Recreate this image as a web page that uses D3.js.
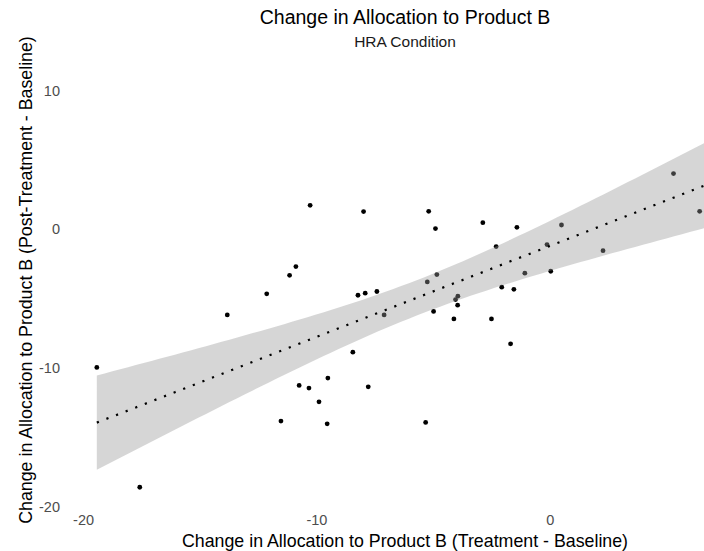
<!DOCTYPE html>
<html>
<head>
<meta charset="utf-8">
<script src="https://cdn.jsdelivr.net/npm/d3@7"></script>
<style>
  body { margin: 0; background: #ffffff; }
  text { font-family: "Liberation Sans", Arial, Helvetica, sans-serif; }
</style>
</head>
<body>
<svg id="chart" width="704" height="551"></svg>
<script>
// Per-participant change in allocation to Product B (HRA condition)
const treatmentChange = [
  -19.41, -17.57, -13.82, -12.13, -11.15, -10.88, -10.27, -7.98, -5.19, -4.90,
  -2.87, -1.41, -2.30, -4.84, -5.25, -8.22, -7.91, -7.41, -2.06, -1.54,
  -3.94, -4.04, -3.95, -7.10, -4.98, -4.11, -2.50, -1.68, -8.44, -9.51,
  -10.74, -10.32, -7.78, -9.89, -11.52, -9.54, -5.32, 5.30, 6.42, 0.50,
  -0.12, 2.28, -1.07, 0.04, 7.00
];
const postTreatmentChange = [
  -9.97, -18.62, -6.18, -4.66, -3.32, -2.69, 1.73, 1.28, 1.30, 0.05,
  0.48, 0.14, -1.25, -3.27, -3.80, -4.76, -4.61, -4.49, -4.18, -4.33,
  -4.83, -5.07, -5.48, -6.18, -5.93, -6.47, -6.47, -8.27, -8.87, -10.74,
  -11.27, -11.46, -11.37, -12.45, -13.84, -14.04, -13.94, 4.02, 1.30, 0.31,
  -1.10, -1.54, -3.17, -3.03, 11.30
];
const xTicks = [-20, -10, 0];
const yTicks = [-20, -10, 0, 10];
const titleText = "Change in Allocation to Product B";
const subtitleText = "HRA Condition";
const xTitleText = "Change in Allocation to Product B (Treatment - Baseline)";
const yTitleText = "Change in Allocation to Product B (Post-Treatment - Baseline)";

const svg = d3.select("#chart");
const panel = { left: 66, right: 744, top: 52, bottom: 508 };

const points = treatmentChange.map((x, i) => ({ x, y: postTreatmentChange[i] }));
const n = points.length;

// Ordinary least squares fit with 95% confidence band
const mx = d3.mean(points, d => d.x);
const my = d3.mean(points, d => d.y);
const sxx = d3.sum(points, d => (d.x - mx) ** 2);
const sxy = d3.sum(points, d => (d.x - mx) * (d.y - my));
const slope = sxy / sxx;
const intercept = my - slope * mx;
const rss = d3.sum(points, d => (d.y - (intercept + slope * d.x)) ** 2);
const sigma = Math.sqrt(rss / (n - 2));

function tQuantile975(df) {
  const z = 1.959963985;
  const z3 = z ** 3, z5 = z ** 5, z7 = z ** 7;
  return z + (z3 + z) / (4 * df)
    + (5 * z5 + 16 * z3 + 3 * z) / (96 * df * df)
    + (3 * z7 + 19 * z5 + 17 * z3 - 15 * z) / (384 * df ** 3);
}
const tq = tQuantile975(n - 2);

const [xMin, xMax] = d3.extent(points, d => d.x);
const band = d3.range(80).map(i => {
  const x = xMin + (xMax - xMin) * i / 79;
  const fit = intercept + slope * x;
  const se = sigma * Math.sqrt(1 / n + (x - mx) ** 2 / sxx);
  return { x, fit, lo: fit - tq * se, hi: fit + tq * se };
});

// Scale domains padded by 5% of the data range on each side
function padded(lo, hi) {
  const p = (hi - lo) * 0.05;
  return [lo - p, hi + p];
}
const yLo = Math.min(d3.min(points, d => d.y), d3.min(band, d => d.lo));
const yHi = Math.max(d3.max(points, d => d.y), d3.max(band, d => d.hi));

const x = d3.scaleLinear().domain(padded(xMin, xMax)).range([panel.left, panel.right]);
const y = d3.scaleLinear().domain(padded(yLo, yHi)).range([panel.bottom, panel.top]);

// Points
svg.append("g")
  .selectAll("circle")
  .data(points)
  .join("circle")
  .attr("cx", d => x(d.x))
  .attr("cy", d => y(d.y))
  .attr("r", 2.4)
  .attr("fill", "#000000");

// Confidence ribbon
svg.append("path")
  .datum(band)
  .attr("d", d3.area().x(d => x(d.x)).y0(d => y(d.lo)).y1(d => y(d.hi)))
  .attr("fill", "#999999")
  .attr("fill-opacity", 0.4);

// Dotted regression line
svg.append("path")
  .datum(band)
  .attr("d", d3.line().x(d => x(d.x)).y(d => y(d.fit)))
  .attr("fill", "none")
  .attr("stroke", "#000000")
  .attr("stroke-width", 2.2)
  .attr("stroke-dasharray", "2.2 8.1");

// Axes (labels only, no lines or ticks); plain hyphen for negatives
const tickFmt = d => String(d);

const xAxis = svg.append("g")
  .attr("transform", `translate(0,${panel.bottom})`)
  .call(d3.axisBottom(x).tickValues(xTicks).tickSize(0).tickPadding(7).tickFormat(tickFmt));
xAxis.select(".domain").remove();
xAxis.selectAll("text")
  .attr("fill", "#4d4d4d")
  .style("font-size", "14.5px")
  .style("font-family", '"Liberation Sans", Arial, sans-serif');

const yAxis = svg.append("g")
  .attr("transform", `translate(${panel.left},0)`)
  .call(d3.axisLeft(y).tickValues(yTicks).tickSize(0).tickPadding(6).tickFormat(tickFmt));
yAxis.select(".domain").remove();
yAxis.selectAll("text")
  .attr("fill", "#4d4d4d")
  .style("font-size", "14.5px")
  .style("font-family", '"Liberation Sans", Arial, sans-serif');

const cx = (panel.left + panel.right) / 2;
const cy = (panel.top + panel.bottom) / 2;

svg.append("text")
  .attr("x", cx).attr("y", 24)
  .attr("text-anchor", "middle")
  .attr("fill", "#000000")
  .style("font-size", "19.5px")
  .text(titleText);

svg.append("text")
  .attr("x", cx).attr("y", 47)
  .attr("text-anchor", "middle")
  .attr("fill", "#1a1a1a")
  .style("font-size", "15.5px")
  .text(subtitleText);

svg.append("text")
  .attr("x", cx).attr("y", 547)
  .attr("text-anchor", "middle")
  .attr("fill", "#000000")
  .style("font-size", "17.8px")
  .text(xTitleText);

svg.append("text")
  .attr("transform", `translate(32,${cy}) rotate(-90)`)
  .attr("text-anchor", "middle")
  .attr("fill", "#000000")
  .style("font-size", "17.8px")
  .text(yTitleText);
</script>
</body>
</html>
